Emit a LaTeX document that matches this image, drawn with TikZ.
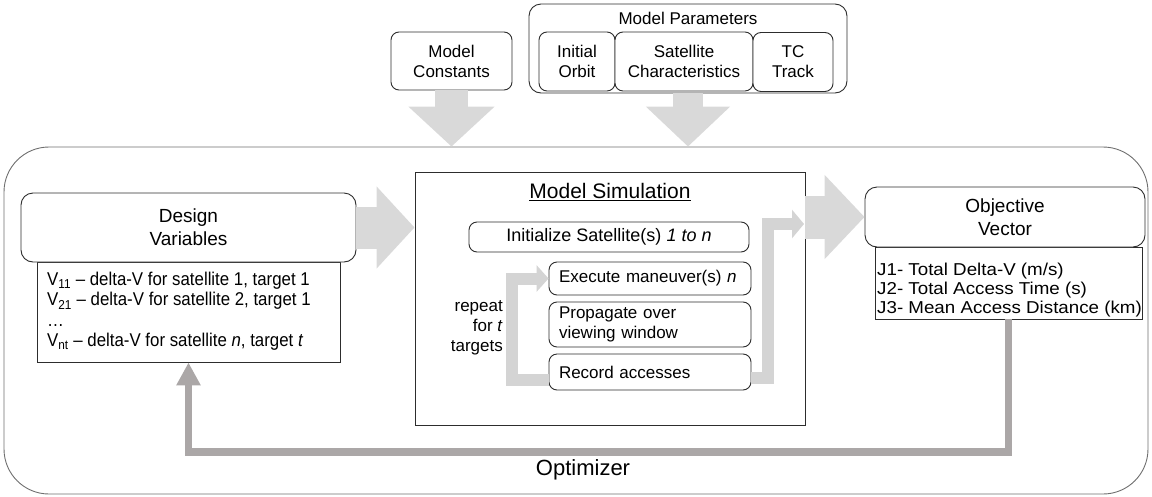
\documentclass[tikz,border=0pt]{standalone}
\usepackage{fontspec}
\setmainfont{Liberation Sans}
\newfontfamily\narrowsans{Liberation Sans}[FakeStretch=0.91]
\newfontfamily\widesans{Liberation Sans}[FakeStretch=1.09]
\usetikzlibrary{arrows.meta,calc}
\definecolor{shade}{RGB}{217,217,217}
\definecolor{loopgray}{RGB}{212,212,212}
\definecolor{fbgray}{RGB}{171,167,167}
\definecolor{edge}{RGB}{45,45,45}
\definecolor{outeredge}{RGB}{110,110,110}
\newcommand\fsz[2]{\fontsize{#1}{#2}\selectfont}
\tikzset{
  box/.style={draw=edge, line width=0.9pt, fill=white, inner sep=0pt, align=center, font=\fsz{17}{20}},
  rbox/.style={box, rounded corners=8pt},
  listtext/.style={anchor=north west, align=left, inner sep=0pt},
  bigarrow/.style={draw=shade, line width=#1, line cap=butt},
  thinloop/.style={draw=loopgray, line width=12pt, line join=miter},
  feedback/.style={draw=fbgray, line width=7.5pt, line join=miter, -{Triangle[width=23pt,length=23pt]}},
}
\begin{document}
\begin{tikzpicture}[x=1pt,y=-1pt]
\useasboundingbox (0,0) rectangle (1152,496);

% optimizer loop frame
\node[draw=outeredge, line width=0.9pt, rounded corners=45pt, minimum width=1144pt, minimum height=347pt, inner sep=0pt] (opt) at (576,320.5) {};
\node[font=\fsz{22}{26}] (optlabel) at (583,470) {Optimizer};

% inputs at the top
\node[rbox, minimum width=121pt, minimum height=58pt] (const) at (451.5,61) {Model\\Constants};
\node[box, rounded corners=12pt, minimum width=318pt, minimum height=89pt] (params) at (688,48.5) {};
\node[font=\fsz{17}{20}] (ptitle) at (688,18) {Model Parameters};
\node[rbox, minimum width=76pt, minimum height=59pt] (orbit) at (577,61.5) {Initial\\Orbit};
\node[rbox, minimum width=138pt, minimum height=59pt] (satchar) at (684,61.5) {Satellite\\Characteristics};
\node[rbox, minimum width=80pt, minimum height=59pt] (tctrack) at (793,62) {TC\\Track};

\draw[bigarrow=33pt, -{Triangle[width=84pt,length=40pt]}] (const.south) -- (const.south |- opt.north);
\draw[bigarrow=30pt, -{Triangle[width=82pt,length=40pt]}] (params.south) -- (params.south |- opt.north);

% design variables
\node[box, minimum width=303pt, minimum height=100pt] (dvlist) at (188.5,312) {};
\node[listtext, font=\narrowsans\fsz{18.5}{20.3}] (dvtext) at (47,272)
  {V\textsubscript{11} – delta-V for satellite 1, target 1\\
   V\textsubscript{21} – delta-V for satellite 2, target 1\\
   …\\
   V\textsubscript{nt} – delta-V for satellite \textit{n}, target \textit{t}};
\node[box, rounded corners=12pt, minimum width=335pt, minimum height=69pt, font=\fsz{19}{23}] (dvhead) at (188.5,227.5) {Design\\Variables};

% model simulation
\node[box, minimum width=390pt, minimum height=253pt] (sim) at (610,298.5) {};
\node[font=\fsz{21}{25}] (simtitle) at (610,192) {\underline{Model Simulation}};
\node[rbox, minimum width=280pt, minimum height=30pt, font=\fsz{18}{21}] (init) at (609,237) {Initialize Satellite(s) \textit{1 to n}};
\node[rbox, minimum width=202pt, minimum height=33pt, text width=182pt, inner xsep=10pt, align=left] (exec) at (650,278.5) {Execute maneuver(s) \textit{n}};
\node[rbox, minimum width=202pt, minimum height=45pt, text width=182pt, inner xsep=10pt, align=left] (prop) at (650,324.5) {Propagate over\\viewing window};
\node[rbox, minimum width=202pt, minimum height=36pt, text width=182pt, inner xsep=10pt, align=left] (rec) at (650,372) {Record accesses};
\node[anchor=east, align=right, inner sep=0pt, font=\fsz{17}{20}] (rep) at (503,328) {repeat\\for \textit{t}\\targets};

% loop over targets and hand-off to the objective
\coordinate (rtip) at (804,224);
\draw[thinloop, -{Triangle[width=26pt,length=12pt]}] ($(rec.west)+(0,8)$) -- ++(-37,0) |- (exec.west);
\draw[thinloop, -{Triangle[width=28pt,length=12pt]}] ($(rec.east)+(0,6)$) -- ++(17,0) |- (rtip);

% objective vector
\node[box, minimum width=267pt, minimum height=72pt] (objlist) at (1008.5,283) {};
\node[listtext, font=\widesans\fsz{17.2}{19}] (objtext) at (877,263)
  {J1- Total Delta-V (m/s)\\J2- Total Access Time (s)\\J3- Mean Access Distance (km)};
\node[box, rounded corners=12pt, minimum width=280pt, minimum height=60pt, font=\fsz{19}{23}] (objhead) at (1005,217) {Objective\\Vector};

% main flow arrows
\draw[bigarrow=42pt, -{Triangle[width=80pt,length=38pt]}] (dvhead.east) -- (dvhead.east -| sim.west);
\draw[bigarrow=43pt, -{Triangle[width=82pt,length=40pt]}] (sim.east |- objhead.west) -- (objhead.west);

% optimizer feedback
\coordinate (fbrow) at (600,452);
\draw[feedback] (objlist.south) |- (fbrow) -| (dvlist.south);
\end{tikzpicture}
\end{document}
